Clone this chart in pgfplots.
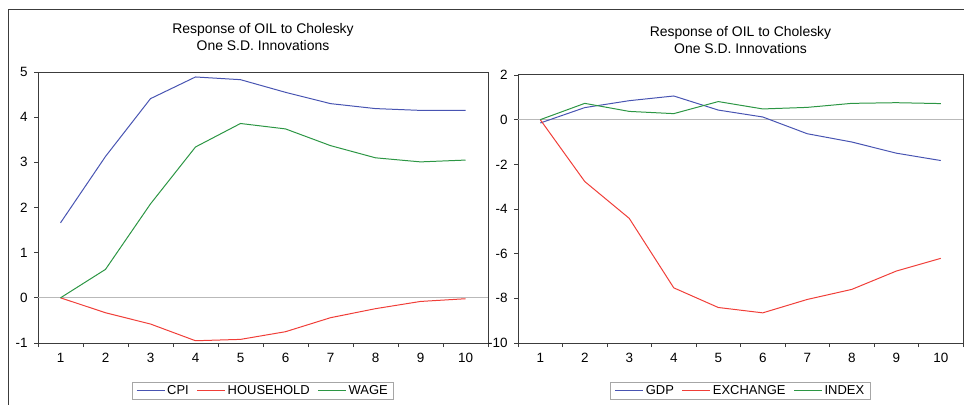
\documentclass[border=0pt]{standalone}
\usepackage{fontspec}
\setmainfont{Liberation Sans}
\usepackage{pgfplots}
\pgfplotsset{compat=1.18}

\definecolor{eblue}{RGB}{72,84,178}
\definecolor{ered}{RGB}{240,62,56}
\definecolor{egreen}{RGB}{44,150,68}
\definecolor{eframe}{RGB}{60,60,60}

\pgfplotsset{
  evstyle/.style={
    scale only axis,
    xmin=0.5, xmax=10.5,
    xtick={1,...,10},
    major x tick style={draw=none},
    minor xtick={0.5,1.5,...,10.5},
    tick align=outside,
    xtick pos=bottom, ytick pos=left,
    tick style={eframe, line width=0.8pt},
    minor tick length=4bp,
    major tick length=4bp,
    axis line style={eframe, line width=1pt},
    ticklabel style={font=\fontsize{13.5}{14}\selectfont},
    /pgf/number format/assume math mode=true,
    xticklabel style={yshift=-3bp},
    yticklabel style={xshift=-3bp},
    title style={font=\fontsize{14}{17}\selectfont, align=center, yshift=12bp},
    legend columns=-1,
    legend style={font=\fontsize{13}{14}\selectfont, draw=gray!70, line width=1.2pt,
      inner xsep=4bp, inner ysep=1bp,
      /tikz/every even column/.append style={column sep=6bp}},
    legend image code/.code={\draw[#1] (0bp,0bp) -- (28bp,0bp);},
    every axis plot/.append style={line width=1pt},
  }
}

\begin{document}
\begin{tikzpicture}
\useasboundingbox (0bp,0bp) rectangle (964bp,405bp);
\draw[eframe, line width=1pt] (8bp,0bp) -- (8bp,395bp) -- (964bp,395bp);

\begin{axis}[evstyle,
  at={(38bp,62bp)}, anchor=south west,
  width=450bp, height=271bp,
  ymin=-1, ymax=5, ytick={-1,0,...,5},
  title={Response of OIL to Cholesky\\One S.D. Innovations},
  legend style={at={(0.5,-0.177)}, anchor=center},
]
\addplot[gray!55, line width=0.8pt, forget plot] coordinates {(0.5,0) (10.5,0)};
\addplot[eblue] coordinates {(1,1.66) (2,3.13) (3,4.41) (4,4.89) (5,4.83) (6,4.55) (7,4.30) (8,4.19) (9,4.15) (10,4.15)};
\addplot[ered] coordinates {(1,0) (2,-0.33) (3,-0.58) (4,-0.95) (5,-0.92) (6,-0.75) (7,-0.44) (8,-0.24) (9,-0.08) (10,-0.02)};
\addplot[egreen] coordinates {(1,0) (2,0.63) (3,2.08) (4,3.34) (5,3.86) (6,3.74) (7,3.37) (8,3.10) (9,3.01) (10,3.05)};
\legend{CPI, HOUSEHOLD, WAGE}
\end{axis}

\begin{axis}[evstyle,
  at={(518bp,62bp)}, anchor=south west,
  width=445bp, height=268bp,
  ymin=-10, ymax=2, ytick={-10,-8,...,2},
  title={Response of OIL to Cholesky\\One S.D. Innovations},
  legend style={at={(0.5,-0.179)}, anchor=center},
]
\addplot[gray!55, line width=0.8pt, forget plot] coordinates {(0.5,0) (10.5,0)};
\addplot[eblue] coordinates {(1,-0.15) (2,0.54) (3,0.85) (4,1.06) (5,0.43) (6,0.12) (7,-0.63) (8,-1.0) (9,-1.5) (10,-1.83)};
\addplot[ered] coordinates {(1,0) (2,-2.77) (3,-4.42) (4,-7.53) (5,-8.41) (6,-8.65) (7,-8.05) (8,-7.60) (9,-6.78) (10,-6.21)};
\addplot[egreen] coordinates {(1,0) (2,0.73) (3,0.37) (4,0.27) (5,0.81) (6,0.48) (7,0.55) (8,0.73) (9,0.76) (10,0.72)};
\legend{GDP, EXCHANGE, INDEX}
\end{axis}
\end{tikzpicture}
\end{document}
